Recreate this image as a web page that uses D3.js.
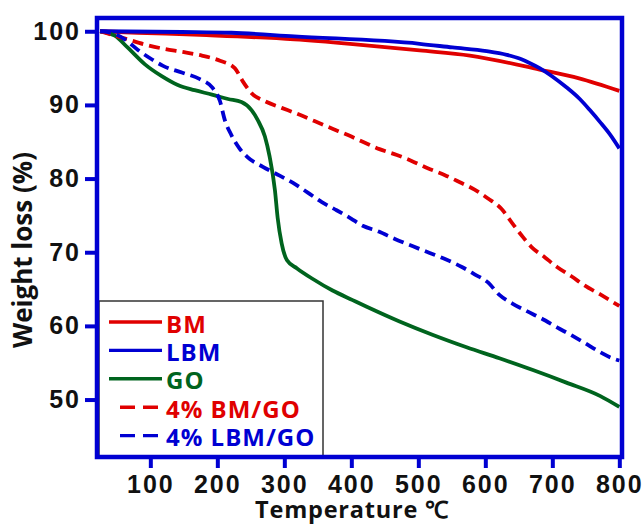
<!DOCTYPE html>
<html>
<head>
<meta charset="utf-8">
<script src="https://cdn.jsdelivr.net/npm/d3@7"></script>
<style>
  body { margin: 0; background: #fff; }
  svg { display: block; }
</style>
</head>
<body>
<svg id="chart" width="644" height="525"></svg>
<script>
// series values (temperature in C, weight in %)
var bmT  = [25, 81, 174, 315, 398, 502, 577, 681, 740, 800];
var bmW  = [100, 99.8, 99.5, 98.9, 98.3, 97.4, 96.7, 94.8, 93.6, 91.9];

var lbmT = [25, 147, 221, 315, 502, 551, 602, 632, 651, 666, 681, 701, 721, 741, 756, 771, 786, 800];
var lbmW = [100, 99.9, 99.8, 99.3, 98.3, 97.8, 97.3, 96.8, 96.3, 95.7, 95.0, 93.8, 92.4, 90.8, 89.3, 87.7, 86.0, 84.1];

var goT  = [25, 47, 66, 92, 117, 141, 166, 192, 216, 236, 251, 260, 271, 278, 286, 290, 296, 304, 319, 342, 372, 402, 423, 472, 521, 572, 621, 671, 721, 771, 800];
var goW  = [100, 99.4, 97.8, 95.5, 93.9, 92.7, 92.0, 91.4, 90.8, 90.4, 89.3, 88.0, 85.7, 83.0, 78.4, 74.7, 71.2, 68.9, 67.8, 66.4, 64.8, 63.5, 62.6, 60.6, 58.8, 57.1, 55.6, 54.0, 52.3, 50.5, 49.0];

var bmgoT = [25, 66, 92, 121, 148, 177, 204, 226, 238, 251, 271, 296, 319, 345, 371, 395, 417, 442, 468, 490, 514, 539, 562, 584, 604, 624, 639, 654, 669, 689, 707, 729, 748, 771, 800];
var bmgoW = [100, 98.9, 98.2, 97.6, 97.2, 96.7, 96.0, 95.0, 93.2, 91.6, 90.5, 89.6, 88.8, 87.8, 86.8, 85.9, 85.0, 84.0, 83.2, 82.4, 81.4, 80.5, 79.5, 78.5, 77.3, 75.9, 74.1, 72.3, 70.7, 69.3, 68.0, 66.7, 65.5, 64.3, 62.7];

var lbmgoT = [25, 42, 62, 81, 102, 119, 147, 174, 193, 204, 211, 221, 233, 245, 268, 293, 313, 335, 356, 378, 399, 417, 441, 465, 492, 517, 539, 565, 584, 604, 621, 641, 662, 684, 707, 729, 748, 768, 790, 800];
var lbmgoW = [100, 99.8, 98.9, 97.5, 96.2, 95.3, 94.4, 93.5, 92.3, 90.5, 88.0, 85.9, 84.1, 82.9, 81.6, 80.4, 79.4, 78.1, 76.8, 75.7, 74.6, 73.6, 72.8, 71.8, 70.8, 69.9, 69.1, 68.0, 67.0, 65.9, 64.2, 63.0, 62.0, 61.0, 59.8, 58.7, 57.7, 56.6, 55.6, 55.3];

// axis ticks
var xTicks = [100, 200, 300, 400, 500, 600, 700, 800];
var yTicks = [50, 60, 70, 80, 90, 100];

var names  = ["BM", "LBM", "GO", "4% BM/GO", "4% LBM/GO"];
var colors = ["#e00000", "#0000d2", "#00641e", "#e00000", "#0000d2"];
var dashed = [false, false, false, true, true];

var series = [
    {t: bmT, w: bmW},
    {t: lbmT, w: lbmW},
    {t: goT, w: goW},
    {t: bmgoT, w: bmgoW},
    {t: lbmgoT, w: lbmgoW}
];

var svg = d3.select("#chart");

// plot frame
var plotLeft = 97, plotRight = 622, plotTop = 18, plotBottom = 457;
var frameColor = "#0000d2";

var xScale = d3.scaleLinear().domain([20.4, 804]).range([plotLeft, plotRight]);
var yScale = d3.scaleLinear().domain([42.2, 101.8]).range([plotBottom, plotTop]);

var line = d3.line()
    .x(d => xScale(d[0]))
    .y(d => yScale(d[1]))
    .curve(d3.curveMonotoneX);

// curves
series.forEach((s, i) => {
    var pts = s.t.map((t, j) => [t, s.w[j]]);
    svg.append("path")
        .attr("d", line(pts))
        .attr("fill", "none")
        .attr("stroke", colors[i])
        .attr("stroke-width", 3.8)
        .attr("stroke-dasharray", dashed[i] ? "11,6" : null);
});

// legend
var legend = svg.append("g");
legend.append("rect")
    .attr("x", 99).attr("y", 301)
    .attr("width", 224).attr("height", 155)
    .attr("fill", "#fff")
    .attr("stroke", "#333")
    .attr("stroke-width", 1.5);

names.forEach((n, i) => {
    var ly = 322 + i * 28.4;
    if (dashed[i]) {
        legend.append("line")
            .attr("x1", 120).attr("x2", 158)
            .attr("y1", ly).attr("y2", ly)
            .attr("stroke", colors[i]).attr("stroke-width", 3.4)
            .attr("stroke-dasharray", "15,8");
    } else {
        legend.append("line")
            .attr("x1", 109).attr("x2", 162)
            .attr("y1", ly).attr("y2", ly)
            .attr("stroke", colors[i]).attr("stroke-width", 3.4);
    }
    legend.append("text")
        .attr("x", 166).attr("y", ly + 10.5)
        .attr("fill", colors[i])
        .style("font-family", "'Open Sans', sans-serif")
        .style("font-weight", "bold")
        .style("font-size", "24px")
        .style("letter-spacing", "1px")
        .text(n);
});

// axes
var xAxis = d3.axisBottom(xScale).tickValues(xTicks).tickSize(11).tickSizeOuter(0).tickPadding(7);
var yAxis = d3.axisLeft(yScale).tickValues(yTicks).tickSize(12).tickSizeOuter(0).tickPadding(4);

var gx = svg.append("g").attr("transform", "translate(0," + plotBottom + ")").call(xAxis);
var gy = svg.append("g").attr("transform", "translate(" + plotLeft + ",0)").call(yAxis);

[gx, gy].forEach(g => {
    g.select(".domain").remove();
    g.selectAll(".tick line").attr("stroke", frameColor).attr("stroke-width", 4);
    g.selectAll(".tick text")
        .attr("fill", "#111")
        .style("font-family", "'Liberation Sans', Arial, sans-serif")
        .style("font-weight", "bold")
        .style("font-size", "25px")
        .style("letter-spacing", "2px");
});

svg.append("rect")
    .attr("x", plotLeft).attr("y", plotTop)
    .attr("width", plotRight - plotLeft).attr("height", plotBottom - plotTop)
    .attr("fill", "none")
    .attr("stroke", frameColor)
    .attr("stroke-width", 4.5);

// axis titles
svg.append("text")
    .attr("x", 352).attr("y", 518)
    .attr("text-anchor", "middle")
    .attr("fill", "#111")
    .style("font-family", "'Open Sans', sans-serif")
    .style("font-weight", "bold")
    .style("font-size", "23.5px")
    .style("letter-spacing", "0.8px")
    .text("Temperature ℃");

svg.append("text")
    .attr("transform", "translate(32,250) rotate(-90)")
    .attr("text-anchor", "middle")
    .attr("fill", "#111")
    .style("font-family", "'Open Sans', sans-serif")
    .style("font-weight", "bold")
    .style("font-size", "26px")
    .text("Weight loss (%)");
</script>
</body>
</html>
